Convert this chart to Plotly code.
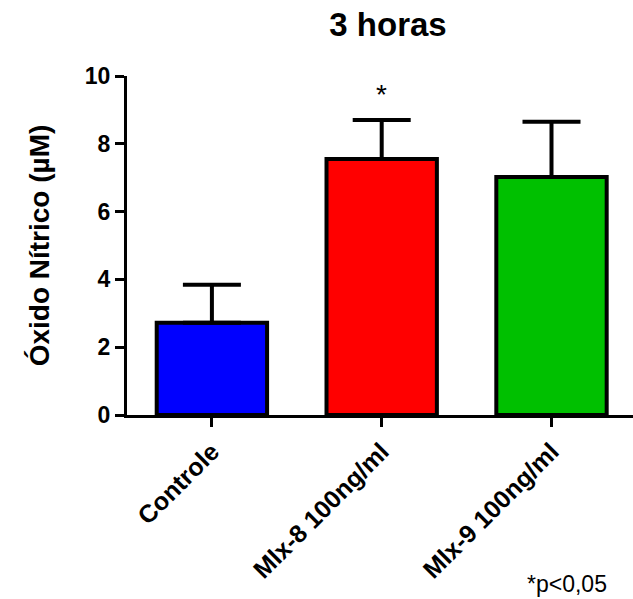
import plotly.graph_objects as go

# Nitric oxide after 3 hours (mean + SEM)
categories = ["Controle", "Mlx-8 100ng/ml", "Mlx-9 100ng/ml"]
means = [2.72, 7.55, 7.02]
sem = [1.12, 1.15, 1.63]
colors = ["#0000FF", "#FF0000", "#00C000"]
y_ticks = [0, 2, 4, 6, 8, 10]

FONT = "Liberation Sans, Arial, sans-serif"

fig = go.Figure(
    go.Bar(
        x=categories,
        y=means,
        width=0.65,
        marker=dict(color=colors, line=dict(color="black", width=4)),
        error_y=dict(
            type="data",
            symmetric=False,
            array=sem,
            arrayminus=[0] * len(sem),
            color="black",
            thickness=4,
            width=29,
        ),
    )
)

fig.add_annotation(
    x=categories[1], y=9.45, text="*", showarrow=False,
    font=dict(family=FONT, size=28, color="black"), yanchor="middle",
)
fig.add_annotation(
    x=609 / 633, y=585 / 599, xref="paper", yref="paper", text="*p<0,05",
    showarrow=False, xanchor="right", yanchor="middle",
    font=dict(family=FONT, size=23, color="black"),
)
# paper coordinates above are relative to the plot area; convert
fig.layout.annotations[1].update(
    x=(609 - 127) / 506, y=(415.5 - 585) / 339.5,
)

fig.update_layout(
    width=633,
    height=599,
    margin=dict(l=127, r=0, t=76, b=183.5),
    paper_bgcolor="white",
    plot_bgcolor="white",
    showlegend=False,
    font=dict(family=FONT, color="black"),
    title=dict(
        text="<b>3 horas</b>",
        x=388 / 633, xanchor="center", xref="container",
        y=1 - 24 / 599, yanchor="middle", yref="container",
        font=dict(family=FONT, size=33, color="black"),
    ),
    xaxis=dict(
        range=[-0.5, 2.48],
        showline=True, linecolor="black", linewidth=3,
        ticks="outside", ticklen=9, tickwidth=3, tickcolor="black",
        tickangle=-45,
        tickfont=dict(family=FONT, size=25, color="black", weight="bold"),
        showgrid=False, zeroline=False,
    ),
    yaxis=dict(
        range=[0, 10],
        tickvals=y_ticks,
        showline=True, linecolor="black", linewidth=3,
        ticks="outside", ticklen=9, tickwidth=3, tickcolor="black",
        tickfont=dict(family=FONT, size=23, color="black", weight="bold"),
        showgrid=False, zeroline=False,
        title=dict(
            text="<b>Óxido Nítrico (µM)</b>",
            font=dict(family=FONT, size=28, color="black"),
            standoff=28,
        ),
    ),
)

fig.write_html("out.html")
